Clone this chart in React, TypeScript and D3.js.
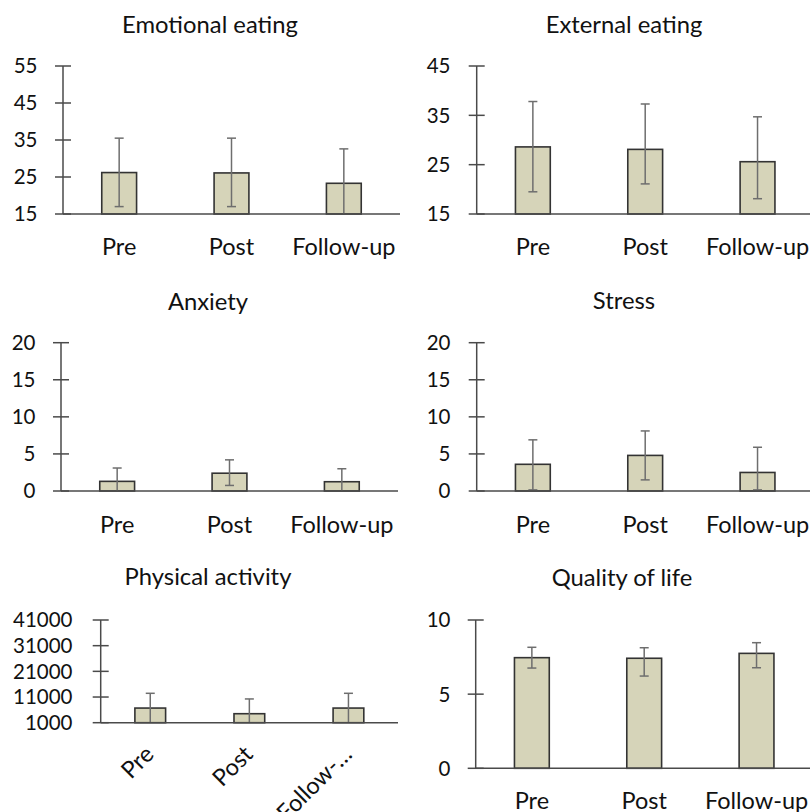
import React from "react";
import * as d3 from "d3";

// Time points on the x axis
const categories = ["Pre", "Post", "Follow-up"];
const categoriesShort = ["Pre", "Post", "Follow-…"];

// Emotional eating
const emotionalEatingMean = [26.2, 26.1, 23.3];
const emotionalEatingHigh = [35.5, 35.5, 32.6];
const emotionalEatingLow = [17.0, 17.0, 14.0];
const emotionalEatingTicks = [15, 25, 35, 45, 55];

// External eating
const externalEatingMean = [28.6, 28.1, 25.6];
const externalEatingHigh = [37.8, 37.3, 34.7];
const externalEatingLow = [19.5, 21.1, 18.1];
const externalEatingTicks = [15, 25, 35, 45];

// Anxiety
const anxietyMean = [1.3, 2.4, 1.25];
const anxietyHigh = [3.1, 4.2, 3.0];
const anxietyLow = [-0.5, 0.75, -0.5];
const anxietyTicks = [0, 5, 10, 15, 20];

// Stress
const stressMean = [3.6, 4.8, 2.5];
const stressHigh = [6.9, 8.1, 5.9];
const stressLow = [0.15, 1.5, 0.15];
const stressTicks = [0, 5, 10, 15, 20];

// Physical activity
const physicalMean = [6700, 4500, 6700];
const physicalHigh = [12450, 10250, 12450];
const physicalLow = [950, -1250, 950];
const physicalTicks = [1000, 11000, 21000, 31000, 41000];

// Quality of life
const qualityMean = [7.46, 7.42, 7.75];
const qualityHigh = [8.16, 8.13, 8.47];
const qualityLow = [6.76, 6.22, 6.78];
const qualityTicks = [0, 5, 10];

const FONT = "Lato, 'Open Sans', sans-serif";
const TITLE_SIZE = 23.8;
const LABEL_SIZE = 23.5;
const TICK_SIZE = 20.5;
const BAR_FILL = "#d6d4b9";
const BAR_STROKE = "#333333";
const AXIS = "#4a4a4a";
const ERR = "#6e6e6e";
const TEXT = "#111111";

type Layout = {
  axisX: number;
  yTop: number;
  yBottom: number;
  width: number;
  titleX: number;
  titleY: number;
  labelY: number;
  tickRight: number;
  rotate?: boolean;
};

type PanelProps = {
  title: string;
  labels: string[];
  mean: number[];
  high: number[];
  low: number[];
  ticks: number[];
  layout: Layout;
};

function Panel({ title, labels, mean, high, low, ticks, layout }: PanelProps) {
  const { axisX, yTop, yBottom, width, titleX, titleY, labelY, tickRight, rotate } = layout;
  const domain: [number, number] = [ticks[0], ticks[ticks.length - 1]];
  const y = d3.scaleLinear().domain(domain).range([yBottom, yTop]);
  const x = d3
    .scaleBand<string>()
    .domain(labels)
    .range([axisX, axisX + width])
    .paddingInner(0.69)
    .paddingOuter(0.345);
  const bw = x.bandwidth();
  const clamp = (v: number) => Math.max(domain[0], Math.min(domain[1], v));

  return (
    <g>
      <text
        x={titleX}
        y={titleY}
        textAnchor="middle"
        fontFamily={FONT}
        fontSize={TITLE_SIZE}
        fill={TEXT}
      >
        {title}
      </text>

      {labels.map((c, i) => {
        const x0 = x(c) as number;
        const top = y(mean[i]);
        return (
          <rect
            key={"b" + i}
            x={x0}
            y={top}
            width={bw}
            height={yBottom - top}
            fill={BAR_FILL}
            stroke={BAR_STROKE}
            strokeWidth={1.6}
          />
        );
      })}

      {labels.map((c, i) => {
        const cx = (x(c) as number) + bw / 2;
        const hiClipped = high[i] > domain[1];
        const loClipped = low[i] < domain[0];
        const yh = y(clamp(high[i]));
        const yl = y(clamp(low[i]));
        return (
          <g key={"e" + i} stroke={ERR} strokeWidth={1.5}>
            <line x1={cx} x2={cx} y1={yh} y2={yl} />
            {!hiClipped && <line x1={cx - 4.5} x2={cx + 4.5} y1={yh} y2={yh} />}
            {!loClipped && <line x1={cx - 4.5} x2={cx + 4.5} y1={yl} y2={yl} />}
          </g>
        );
      })}

      {/* value axis with crossing tick marks */}
      <g stroke={AXIS} strokeWidth={1.5}>
        <line x1={axisX} x2={axisX} y1={yTop} y2={yBottom} />
        {ticks.map((t) => (
          <line key={"t" + t} x1={axisX - 8} x2={axisX + 8} y1={y(t)} y2={y(t)} />
        ))}
        <line x1={axisX} x2={axisX + width} y1={yBottom} y2={yBottom} />
      </g>
      {ticks.map((t) => (
        <text
          key={"l" + t}
          x={tickRight}
          y={y(t)}
          dy="0.36em"
          textAnchor="end"
          fontFamily={FONT}
          fontSize={TICK_SIZE}
          fill={TEXT}
        >
          {t}
        </text>
      ))}

      {labels.map((c, i) => {
        const cx = (x(c) as number) + bw / 2;
        if (rotate) {
          const ax = cx + 5;
          const ay = yBottom + 33;
          return (
            <text
              key={"c" + i}
              x={ax}
              y={ay}
              textAnchor="end"
              transform={`rotate(-45 ${ax} ${ay})`}
              fontFamily={FONT}
              fontSize={LABEL_SIZE}
              fill={TEXT}
            >
              {c}
            </text>
          );
        }
        return (
          <text
            key={"c" + i}
            x={cx}
            y={labelY}
            textAnchor="middle"
            fontFamily={FONT}
            fontSize={LABEL_SIZE}
            fill={TEXT}
          >
            {c}
          </text>
        );
      })}
    </g>
  );
}

export default function App() {
  return (
    <svg
      width={810}
      height={812}
      style={{ position: "absolute", left: 0, top: 0, background: "#ffffff" }}
    >
      <rect width={810} height={812} fill="#ffffff" />
      <Panel
        title="Emotional eating"
        labels={categories}
        mean={emotionalEatingMean}
        high={emotionalEatingHigh}
        low={emotionalEatingLow}
        ticks={emotionalEatingTicks}
        layout={{ axisX: 63, yTop: 66, yBottom: 214, width: 337, titleX: 210, titleY: 33, labelY: 255, tickRight: 37.5 }}
      />
      <Panel
        title="External eating"
        labels={categories}
        mean={externalEatingMean}
        high={externalEatingHigh}
        low={externalEatingLow}
        ticks={externalEatingTicks}
        layout={{ axisX: 476.7, yTop: 66, yBottom: 214, width: 337, titleX: 624, titleY: 33, labelY: 255, tickRight: 450.5 }}
      />
      <Panel
        title="Anxiety"
        labels={categories}
        mean={anxietyMean}
        high={anxietyHigh}
        low={anxietyLow}
        ticks={anxietyTicks}
        layout={{ axisX: 61, yTop: 342.7, yBottom: 491, width: 337, titleX: 208, titleY: 310, labelY: 533, tickRight: 35.5 }}
      />
      <Panel
        title="Stress"
        labels={categories}
        mean={stressMean}
        high={stressHigh}
        low={stressLow}
        ticks={stressTicks}
        layout={{ axisX: 476.7, yTop: 342.7, yBottom: 491, width: 337, titleX: 624, titleY: 309, labelY: 533, tickRight: 450.5 }}
      />
      <Panel
        title="Physical activity"
        labels={categoriesShort}
        mean={physicalMean}
        high={physicalHigh}
        low={physicalLow}
        ticks={physicalTicks}
        layout={{ axisX: 100.7, yTop: 620, yBottom: 722.7, width: 297.3, titleX: 208, titleY: 585, labelY: 0, tickRight: 72.5, rotate: true }}
      />
      <Panel
        title="Quality of life"
        labels={categories}
        mean={qualityMean}
        high={qualityHigh}
        low={qualityLow}
        ticks={qualityTicks}
        layout={{ axisX: 475.7, yTop: 620, yBottom: 768.3, width: 337, titleX: 622, titleY: 586, labelY: 809, tickRight: 450.5 }}
      />
    </svg>
  );
}
